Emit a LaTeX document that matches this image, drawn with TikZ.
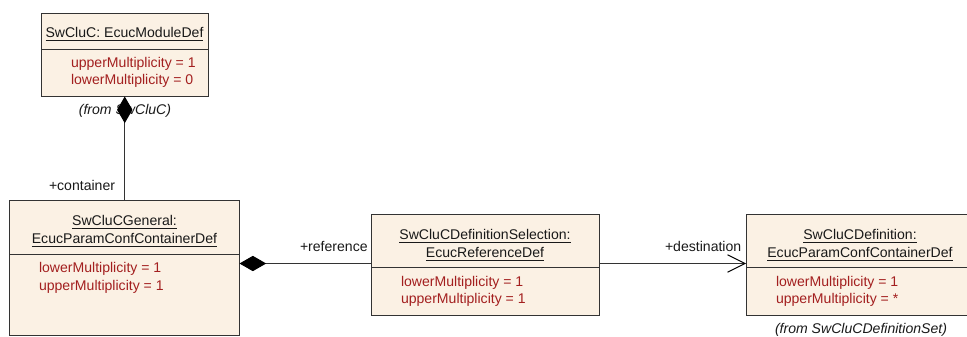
\documentclass[tikz,border=0pt]{standalone}
\usepackage{fontspec}
\setmainfont{Liberation Sans}
\usetikzlibrary{arrows.meta}
\definecolor{boxfill}{HTML}{FBF1E4}
\definecolor{edge}{HTML}{333333}
\definecolor{attr}{HTML}{A31F1F}
\newcommand{\ulbox}[1]{\vtop{\hbox{#1}\kern2pt\hrule height 0.8pt}}
\tikzset{
  umlbox/.style={draw=edge,fill=boxfill,line width=0.75pt,inner sep=0pt,outer sep=0pt},
  divider/.style={draw=edge,line width=0.75pt},
  txt/.style={inner sep=0pt,outer sep=0pt,font=\fontsize{10.55pt}{12pt}\selectfont,text=black!90},
  title/.style={txt,anchor=base},
  attrib/.style={txt,anchor=base west,text=attr},
  fromlabel/.style={txt,anchor=base,font=\fontsize{10.55pt}{12pt}\selectfont\itshape},
  rolelabel/.style={txt,anchor=base west},
  conn/.style={draw=edge,line width=0.75pt},
  comp/.style={{Diamond[length=20pt,width=11.5pt,fill=black,color=black]}-},
  nav/.style={-{Straight Barb[length=13pt,width=13pt,line width=0.75pt,color=black]}}
}
\begin{document}
\begin{tikzpicture}[x=0.75pt,y=-0.75pt]
\useasboundingbox (0,0) rectangle (967,336);
\clip (0,0) rectangle (967,336);
% boxes
\node[umlbox,minimum width=124.9pt,minimum height=62.6pt] (top) at (124.75,54.75) {};
\node[umlbox,minimum width=172.5pt,minimum height=100.9pt] (general) at (124.5,267.75) {};
\node[umlbox,minimum width=171pt,minimum height=75.75pt] (sel) at (485,264.5) {};
\node[umlbox,minimum width=172.5pt,minimum height=75.75pt] (def) at (861,264.5) {};
% dividers
\coordinate (dt) at (0,49);
\coordinate (dg) at (0,254.5);
\coordinate (ds) at (0,267.5);
\draw[divider] (top.west |- dt) -- (top.east |- dt);
\draw[divider] (general.west |- dg) -- (general.east |- dg);
\draw[divider] (sel.west |- ds) -- (sel.east |- ds);
\draw[divider] (def.west |- ds) -- (def.east |- ds);
% titles
\node[title] (t1) at (124.5,37) {\ulbox{SwCluC: EcucModuleDef}};
\node[title] (g1) at (124.5,225) {\ulbox{SwCluCGeneral:}};
\node[title] (g2) at (124.5,243) {\ulbox{EcucParamConfContainerDef}};
\node[title] (s1) at (485,239) {\ulbox{SwCluCDefinitionSelection:}};
\node[title] (s2) at (485,257) {\ulbox{EcucReferenceDef}};
\node[title] (d1) at (860,239) {\ulbox{SwCluCDefinition:}};
\node[title] (d2) at (860,257) {\ulbox{EcucParamConfContainerDef}};
% attributes
\node[attrib] (ta) at (71,67) {upperMultiplicity = 1};
\node[attrib] (tb) at (71,84) {lowerMultiplicity = 0};
\node[attrib] (ga) at (39,272) {lowerMultiplicity = 1};
\node[attrib] (gb) at (39,290) {upperMultiplicity = 1};
\node[attrib] (sa) at (401,286) {lowerMultiplicity = 1};
\node[attrib] (sb) at (401,303) {upperMultiplicity = 1};
\node[attrib] (da) at (776,286) {lowerMultiplicity = 1};
\node[attrib] (db) at (776,303) {upperMultiplicity = *};
% from labels
\node[fromlabel] (f1) at (125,114) {(from SwCluC)};
\node[fromlabel] (f2) at (861,333) {(from SwCluCDefinitionSet)};
% role labels
\node[rolelabel] (r1) at (49,190) {+container};
\node[rolelabel] (r2) at (300,251.7) {+reference};
\node[rolelabel] (r3) at (665,251.7) {+destination};
% connectors
\draw[conn,comp] (top.south) -- (top.south |- general.north);
\coordinate (lane) at (0,263.5);
\draw[conn,comp] (general.east |- lane) -- (sel.west |- lane);
\draw[conn,nav] (sel.east |- lane) -- (def.west |- lane);
\end{tikzpicture}
\end{document}
